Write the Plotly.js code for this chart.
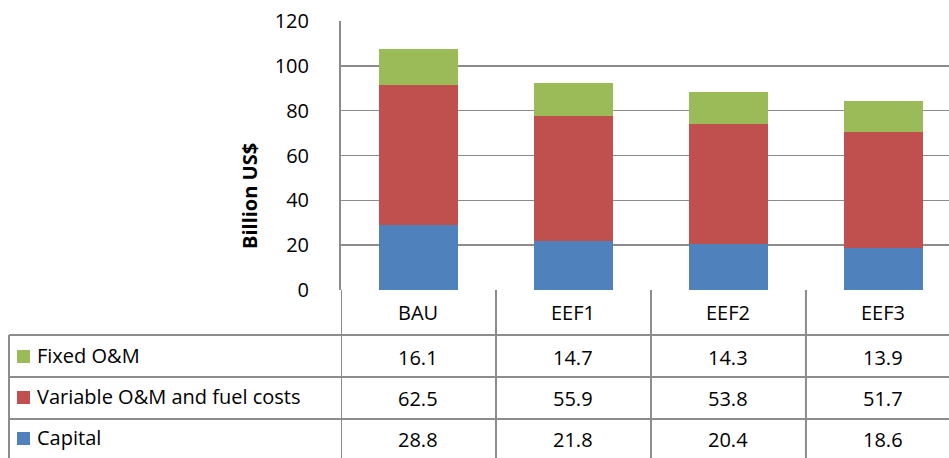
<!DOCTYPE html>
<html>
<head>
<meta charset="utf-8">
<script src="https://cdn.plot.ly/plotly-3.0.1.min.js"></script>
<style>html,body{margin:0;padding:0;background:#fff;}</style>
</head>
<body>
<div id="chart" style="width:949px;height:458px;"></div>
<script>
const categories = ["BAU", "EEF1", "EEF2", "EEF3"];
const capital = [28.8, 21.8, 20.4, 18.6];
const variableOM = [62.5, 55.9, 53.8, 51.7];
const fixedOM = [16.1, 14.7, 14.3, 13.9];
const seriesNames = ["Fixed O&M", "Variable O&M and fuel costs", "Capital"];
const yTicks = [0, 20, 40, 60, 80, 100, 120];

const colors = {cap: "#4F81BD", varom: "#C0504D", fix: "#9BBB59"};
const FONT = "'Open Sans', sans-serif";
const FS = 20;

// pixel helpers for layout (plot area 341..949 x 21..290)
const L = 341, R = 949, T = 21, B = 290;
const px = v => (v - L) / (R - L);
const py = v => (B - v) / (B - T);

const xs = categories.map((c, i) => i);
const traces = [
  {type: "bar", name: seriesNames[2], x: xs, y: capital, marker: {color: colors.cap}, width: 0.51},
  {type: "bar", name: seriesNames[1], x: xs, y: variableOM, marker: {color: colors.varom}, width: 0.51},
  {type: "bar", name: seriesNames[0], x: xs, y: fixedOM, marker: {color: colors.fix}, width: 0.51}
];

const lineC = "#8c8c8c";
const shapes = [];
const annotations = [];
const txt = {family: FONT, size: FS, color: "#000"};
// horizontal lines of table
const rowLines = [335, 377, 419];
rowLines.forEach(yy => shapes.push({type: "line", xref: "paper", yref: "paper", x0: px(9), x1: px(970), y0: py(yy), y1: py(yy), line: {color: lineC, width: 2}}));
// vertical lines
shapes.push({type: "line", xref: "paper", yref: "paper", x0: px(9), x1: px(9), y0: py(335), y1: py(470), line: {color: lineC, width: 2}});
[-0.5, 0.5, 1.5, 2.5].forEach(b => shapes.push({type: "line", xref: "x", yref: "paper", x0: b, x1: b, y0: py(290), y1: py(470), line: {color: lineC, width: 2}}));

// header categories
categories.forEach((c, i) => annotations.push({xref: "x", yref: "paper", x: i, y: py(312), xanchor: "center", yanchor: "middle", text: c, showarrow: false, font: txt}));
// rows
const rows = [
  {name: seriesNames[0], vals: fixedOM, color: colors.fix, cy: 356},
  {name: seriesNames[1], vals: variableOM, color: colors.varom, cy: 397},
  {name: seriesNames[2], vals: capital, color: colors.cap, cy: 438}
];
rows.forEach(r => {
  shapes.push({type: "rect", xref: "paper", yref: "paper", x0: px(17), x1: px(30), y0: py(r.cy - 6), y1: py(r.cy + 7), fillcolor: r.color, line: {width: 0}});
  annotations.push({xref: "paper", yref: "paper", x: px(35), y: py(r.cy - 1), xanchor: "left", yanchor: "middle", text: r.name, showarrow: false, font: txt});
  r.vals.forEach((v, i) => annotations.push({xref: "x", yref: "paper", x: i, y: py(r.cy + 1), xanchor: "center", yanchor: "middle", text: v.toFixed(1), showarrow: false, font: txt}));
});
// y axis title
annotations.push({xref: "paper", yref: "paper", x: px(249), y: py(196), xanchor: "center", yanchor: "middle", text: "<b>Billion US$</b>", textangle: -90, showarrow: false, font: {family: FONT, size: 20, color: "#000"}});

const layout = {
  width: 949, height: 458,
  margin: {l: L, r: 0, t: T, b: 458 - B, pad: 0},
  barmode: "stack",
  showlegend: false,
  paper_bgcolor: "#fff", plot_bgcolor: "#fff",
  xaxis: {range: [-0.5, 3.5 - 0.077], showticklabels: false, ticks: "", showgrid: false, zeroline: false, showline: false, fixedrange: true},
  yaxis: {range: [0, 120], tickvals: yTicks, ticktext: yTicks.map(String), ticks: "", ticklabelstandoff: 26, showgrid: true, gridcolor: "#8c8c8c", gridwidth: 1.5, zeroline: false, showline: true, linecolor: lineC, linewidth: 2, tickfont: txt},
  shapes: shapes,
  annotations: annotations
};
Plotly.newPlot("chart", traces, layout, {staticPlot: true});
</script>
</body>
</html>
